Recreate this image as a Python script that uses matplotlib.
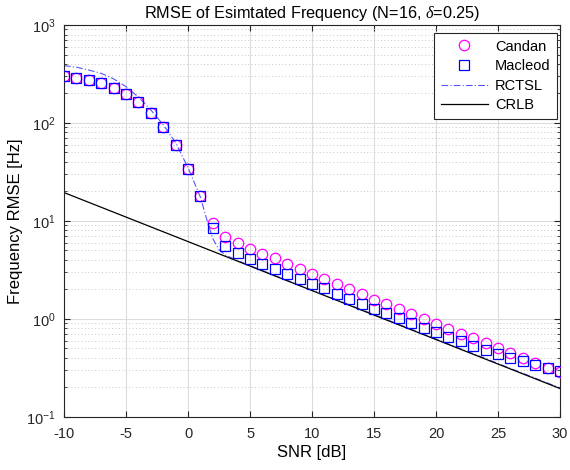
import numpy as np
import matplotlib
matplotlib.use("Agg")
import matplotlib.pyplot as plt
from matplotlib.ticker import LogLocator, MultipleLocator, NullFormatter

plt.rcParams['font.family'] = ['Liberation Sans', 'DejaVu Sans']
plt.rcParams['mathtext.fontset'] = 'custom'
plt.rcParams['mathtext.rm'] = 'Liberation Sans'
plt.rcParams['mathtext.it'] = 'Liberation Serif:italic'
plt.rcParams['axes.unicode_minus'] = False

snr = list(range(-10, 31))
candan = [303, 289, 274, 255, 227, 199, 165, 126, 92, 60, 34, 18.2, 9.6, 6.9, 5.9, 5.15,
          4.58, 4.15, 3.63, 3.23, 2.87, 2.55, 2.29, 2.02, 1.80, 1.58, 1.42, 1.26, 1.12,
          1.0, 0.895, 0.797, 0.71, 0.635, 0.57, 0.507, 0.455, 0.402, 0.357, 0.318, 0.287]
macleod = [303, 289, 274, 255, 227, 199, 165, 126, 92, 60, 34, 18.0, 8.4, 5.57, 4.67, 4.07,
           3.63, 3.23, 2.87, 2.55, 2.27, 2.06, 1.81, 1.61, 1.43, 1.27, 1.14, 1.02, 0.916,
           0.816, 0.731, 0.656, 0.592, 0.535, 0.488, 0.444, 0.404, 0.371, 0.343, 0.318, 0.293]
rctsl_snr = [-10, -9, -8, -7, -6, -5, -4, -3, -2, -1, 0, 1, 1.5, 2, 2.5, 3, 4, 5, 10, 20, 30]
rctsl = [385, 371, 347, 321, 282, 235, 184, 136, 96, 63, 35, 17.5, 10.5, 6.6, 5.1, 4.5,
         3.95, 3.5, 1.97, 0.625, 0.198]
crlb_snr = [-10, 30]
crlb = [19.5, 0.195]

fig = plt.figure(figsize=(5.7, 4.7), dpi=100)
ax = fig.add_axes([0.1123, 0.1128, 0.8702, 0.834])

ax.plot(snr, candan, linestyle='none', marker='o', markersize=7.5, markerfacecolor='none',
        markeredgecolor='#ff00ff', markeredgewidth=0.9, label='Candan', zorder=3)
ax.plot(snr, macleod, linestyle='none', marker='s', markersize=6.8, markerfacecolor='none',
        markeredgecolor='#0000ff', markeredgewidth=0.9, label='Macleod', zorder=3)
ax.plot(rctsl_snr, rctsl, color='#5555ff', linewidth=0.8, linestyle=(0, (6, 2, 1, 2)),
        label='RCTSL', zorder=2)
ax.plot(crlb_snr, crlb, color='black', linewidth=0.9, label='CRLB', zorder=2)

ax.set_yscale('log')
ax.set_xlim(-10, 30)
ax.set_ylim(0.1, 1000)
ax.xaxis.set_major_locator(MultipleLocator(5))
ax.yaxis.set_major_locator(LogLocator(base=10, numticks=10))
ax.yaxis.set_minor_locator(LogLocator(base=10, subs=np.arange(2, 10), numticks=20))
ax.yaxis.set_minor_formatter(NullFormatter())

ax.grid(True, which='major', color='#dcdcdc', linewidth=0.8, linestyle='-')
ax.grid(True, which='minor', axis='y', color='#c8c8c8', linewidth=0.7, linestyle=(0, (1, 2.5)))
ax.set_axisbelow(True)

ax.tick_params(which='both', direction='in', top=True, right=True, labelsize=10.5, colors='#262626')
ax.tick_params(which='major', length=4)
ax.tick_params(which='minor', length=2)
ax.tick_params(axis='x', which='major', pad=7)
ax.tick_params(axis='y', which='major', pad=6)
for s in ax.spines.values():
    s.set_color('#262626')
    s.set_linewidth(0.8)

ax.set_title(r'RMSE of Esimtated Frequency (N=16, $\it{\delta}$=0.25)', fontsize=11.7, pad=5)
ax.set_xlabel('SNR [dB]', fontsize=12, labelpad=3)
ax.set_ylabel('Frequency RMSE [Hz]', fontsize=12, labelpad=2)

leg = ax.legend(loc='upper right', bbox_to_anchor=(0.994, 0.9796), borderaxespad=0,
                fontsize=10.5, fancybox=False, framealpha=1, edgecolor='#262626',
                handlelength=3.2, handletextpad=0.5, labelspacing=0.38, borderpad=0.45)
leg.get_frame().set_linewidth(0.8)

fig.savefig('out.png', dpi=100)
